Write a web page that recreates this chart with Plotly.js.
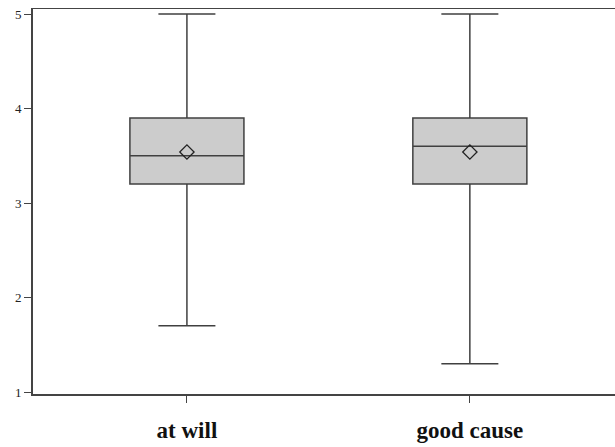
<!DOCTYPE html>
<html>
<head>
<meta charset="utf-8">
<script src="https://cdn.plot.ly/plotly-3.0.1.min.js"></script>
<style>html,body{margin:0;padding:0;background:#fff;}#chart{width:615px;height:447px;}</style>
</head>
<body>
<div id="chart"></div>
<script>
var categories = ["at will", "good cause"];
var minVals = [1.7, 1.3];
var q1Vals = [3.2, 3.2];
var medianVals = [3.5, 3.6];
var q3Vals = [3.9, 3.9];
var maxVals = [5.0, 5.0];
var meanVals = [3.54, 3.54];
var yTicks = [1, 2, 3, 4, 5];

var boxTrace = {
  type: "box",
  x: categories,
  q1: q1Vals,
  median: medianVals,
  q3: q3Vals,
  lowerfence: minVals,
  upperfence: maxVals,
  width: 0.403,
  whiskerwidth: 0.5,
  fillcolor: "#cccccc",
  line: {color: "#404040", width: 1.5},
  hoverinfo: "none",
  showlegend: false
};
var meanTrace = {
  type: "scatter",
  mode: "markers",
  x: categories,
  y: meanVals,
  marker: {symbol: "diamond-open", size: 11, color: "#222222", line: {width: 1.3, color: "#222222"}},
  hoverinfo: "none",
  showlegend: false
};
var layout = {
  width: 615, height: 447,
  margin: {l: 33, r: 0, t: 9, b: 53},
  paper_bgcolor: "#fff", plot_bgcolor: "#fff",
  showlegend: false,
  xaxis: {
    type: "category",
    range: [-0.544, 1.513],
    showgrid: false, zeroline: false,
    showline: true, linecolor: "#444", linewidth: 1.5,
    mirror: true,
    ticks: "outside", ticklen: 7, tickcolor: "#444", tickwidth: 1,
    tickfont: {family: "Liberation Serif, Times New Roman, serif", size: 23, color: "#111", weight: "bold"},
    ticklabelstandoff: 8
  },
  yaxis: {
    range: [0.979, 5.053],
    tickvals: yTicks,
    showgrid: false, zeroline: false,
    showline: true, linecolor: "#444", linewidth: 1.8,
    ticks: "outside", ticklen: 7, tickcolor: "#444", tickwidth: 1,
    tickfont: {family: "Liberation Serif, Times New Roman, serif", size: 13, color: "#222"}
  }
};
Plotly.newPlot("chart", [boxTrace, meanTrace], layout, {displayModeBar: false, staticPlot: true});
</script>
</body>
</html>
